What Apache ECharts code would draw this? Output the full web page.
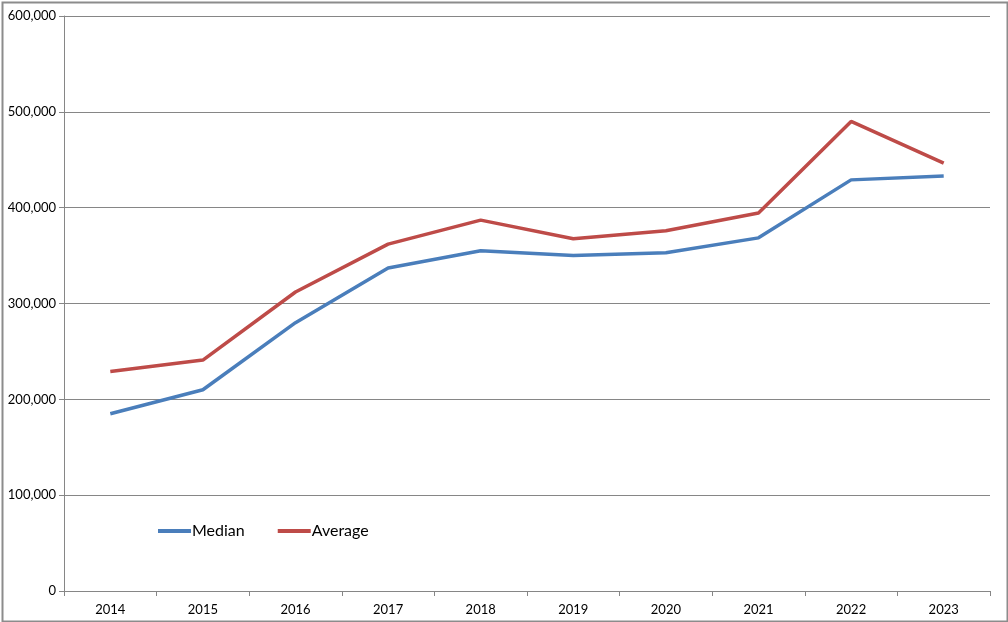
<!DOCTYPE html>
<html>
<head>
<meta charset="utf-8">
<script src="https://cdn.jsdelivr.net/npm/echarts@6/dist/echarts.min.js"></script>
<style>
html,body{margin:0;padding:0;background:#fff;}
#c{width:1008px;height:622px;}
</style>
</head>
<body>
<div id="c"></div>
<script>
const categories = ['2014','2015','2016','2017','2018','2019','2020','2021','2022','2023'];
const medianValues = [185000, 210000, 280000, 337000, 355000, 350000, 353000, 368500, 429000, 433000];
const averageValues = [229000, 241000, 312000, 362000, 387000, 367500, 376000, 394500, 490000, 446500];
const yTicks = [0, 100000, 200000, 300000, 400000, 500000, 600000];

const chart = echarts.init(document.getElementById('c'));
const font = 'Lato, "Open Sans", "Liberation Sans", sans-serif';
chart.setOption({
  animation: false,
  backgroundColor: '#ffffff',
  textStyle: { fontFamily: font },
  graphic: [{
    type: 'rect', left: 0, top: 0, z: 100,
    shape: { x: 1, y: 1, width: 1005, height: 619 },
    style: { fill: 'none', stroke: '#8c8c8c', lineWidth: 2 }
  }],
  grid: { left: 64, right: 18, top: 16, bottom: 31, containLabel: false },
  legend: {
    left: 158, top: 523, padding: 0,
    itemWidth: 33, itemHeight: 4, itemGap: 33,
    icon: 'rect',
    textStyle: { fontSize: 16, color: '#000', fontFamily: font, padding: [0, 0, 0, -4] },
    data: ['Median', 'Average']
  },
  xAxis: {
    type: 'category',
    data: categories,
    boundaryGap: true,
    axisLine: { lineStyle: { color: '#868686', width: 1 } },
    axisTick: { show: true, length: 5, lineStyle: { color: '#868686' } },
    axisLabel: { color: '#000', fontSize: 13, margin: 12, fontFamily: font }
  },
  yAxis: {
    type: 'value',
    min: 0, max: 600000, interval: 100000,
    axisLine: { show: true, lineStyle: { color: '#868686', width: 1 } },
    axisTick: { show: true, length: 5, lineStyle: { color: '#868686' } },
    splitLine: { lineStyle: { color: '#868686', width: 1 } },
    axisLabel: {
      color: '#000', fontSize: 13, margin: 8, fontFamily: font,
      formatter: v => v.toLocaleString('en-US')
    }
  },
  series: [
    {
      name: 'Median', type: 'line', data: medianValues,
      symbol: 'none', lineStyle: { color: '#4a7ebb', width: 3.5 },
      itemStyle: { color: '#4a7ebb' }
    },
    {
      name: 'Average', type: 'line', data: averageValues,
      symbol: 'none', lineStyle: { color: '#be4b48', width: 3.5 },
      itemStyle: { color: '#be4b48' }
    }
  ]
});
</script>
</body>
</html>
